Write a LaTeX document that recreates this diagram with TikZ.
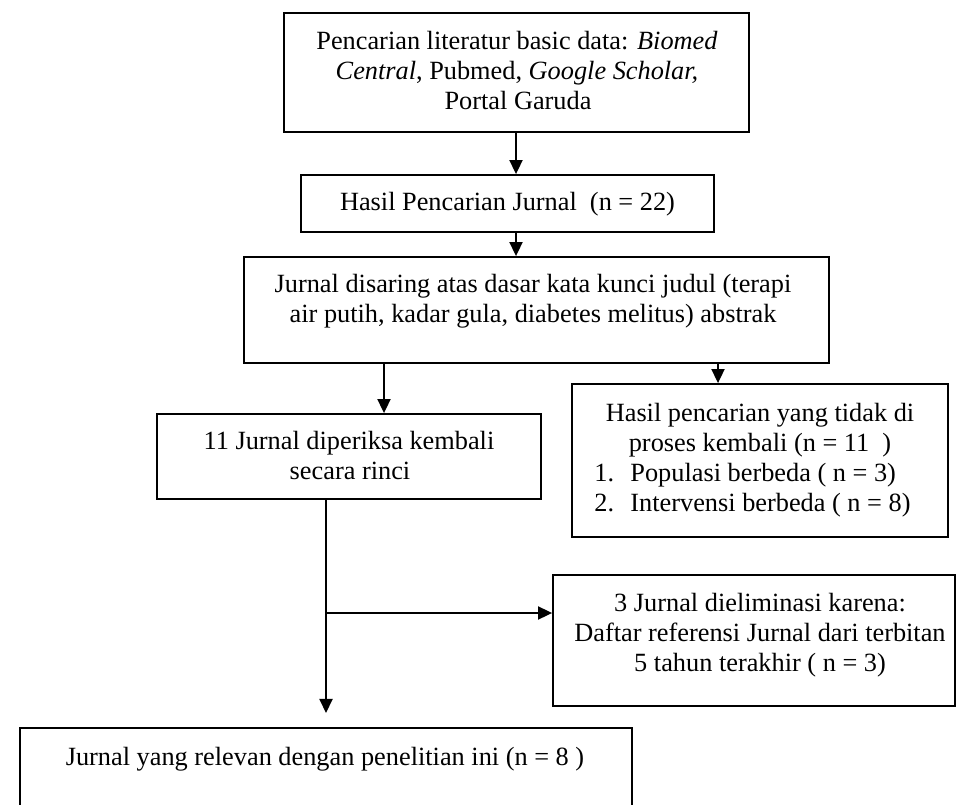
\documentclass[tikz,border=0pt]{standalone}
\usepackage{fontspec}
\setmainfont{Liberation Serif}
\usetikzlibrary{arrows.meta}
\begin{document}
\begin{tikzpicture}[x=0.456pt,y=-0.456pt,
  boxst/.style={draw, line width=0.85pt, rectangle, inner sep=0pt},
  txt/.style={anchor=base, inner sep=0pt, font=\fontsize{12}{13.7}\selectfont},
  txtl/.style={anchor=base west, inner sep=0pt, font=\fontsize{12}{13.7}\selectfont},
  arr/.style={line width=0.65pt, -{Triangle[length=6.4pt,width=6pt]}}]
\useasboundingbox (0,0) rectangle (959,805);
% boxes
\node[boxst, minimum width={465*0.456pt}, minimum height={119*0.456pt}] (b1) at (516.5,72.5) {};
\node[boxst, minimum width={413*0.456pt}, minimum height={57*0.456pt}] (b2) at (507.5,203.5) {};
\node[boxst, minimum width={585*0.456pt}, minimum height={106*0.456pt}] (b3) at (536.5,310) {};
\node[boxst, minimum width={384*0.456pt}, minimum height={85*0.456pt}] (b4) at (349,456.5) {};
\node[boxst, minimum width={376*0.456pt}, minimum height={153*0.456pt}] (b5) at (760,460.5) {};
\node[boxst, minimum width={402*0.456pt}, minimum height={131*0.456pt}] (b6) at (754,640.5) {};
\node[boxst, minimum width={612*0.456pt}, minimum height={102*0.456pt}] (b7) at (326,779) {};
% texts
\node[txt] (t1a) at (517,50) {Pencarian literatur basic data: \textit{Biomed}};
\node[txt] (t1b) at (517,80) {\textit{Central}, Pubmed, \textit{Google Scholar,}};
\node[txt] (t1c) at (518,110) {Portal Garuda};
\node[txt] (t2) at (507.5,211) {Hasil Pencarian Jurnal\ \ (n = 22)};
\node[txt] (t3a) at (533,293) {Jurnal disaring atas dasar kata kunci judul (terapi};
\node[txt] (t3b) at (533,323) {air putih, kadar gula, diabetes melitus) abstrak};
\node[txt] (t4a) at (349,449) {11 Jurnal diperiksa kembali};
\node[txt] (t4b) at (350,479) {secara rinci};
\node[txt] (t5a) at (760,421) {Hasil pencarian yang tidak di};
\node[txt] (t5b) at (760,451) {proses kembali (n = 11\ \ )};
\node[txtl] (t5c) at (594,481) {1.};
\node[txtl] (t5d) at (630,481) {Populasi berbeda ( n = 3)};
\node[txtl] (t5e) at (594,511) {2.};
\node[txtl] (t5f) at (630,511) {Intervensi berbeda ( n = 8)};
\node[txt] (t6a) at (760,611) {3 Jurnal dieliminasi karena:};
\node[txt] (t6b) at (760,641) {Daftar referensi Jurnal dari terbitan};
\node[txt] (t6c) at (760,671) {5 tahun terakhir ( n = 3)};
\node[txt] (t7) at (325,765) {Jurnal yang relevan dengan penelitian ini (n = 8 )};
% connector helpers
\coordinate (xa) at (516,0);
\coordinate (xl) at (384,0);
\coordinate (xr) at (718,0);
\coordinate (xd) at (326,0);
\coordinate (tip) at (326,713);
\coordinate (br) at (326,613);
% connectors
\draw[arr] (b1.south -| xa) -- (b2.north -| xa);
\draw[arr] (b2.south -| xa) -- (b3.north -| xa);
\draw[arr] (b3.south -| xl) -- (b4.north -| xl);
\draw[arr] (b3.south -| xr) -- (b5.north -| xr);
\draw[arr] (b4.south -| xd) -- (tip);
\draw[arr] (br) -- (br -| b6.west);
\end{tikzpicture}
\end{document}
